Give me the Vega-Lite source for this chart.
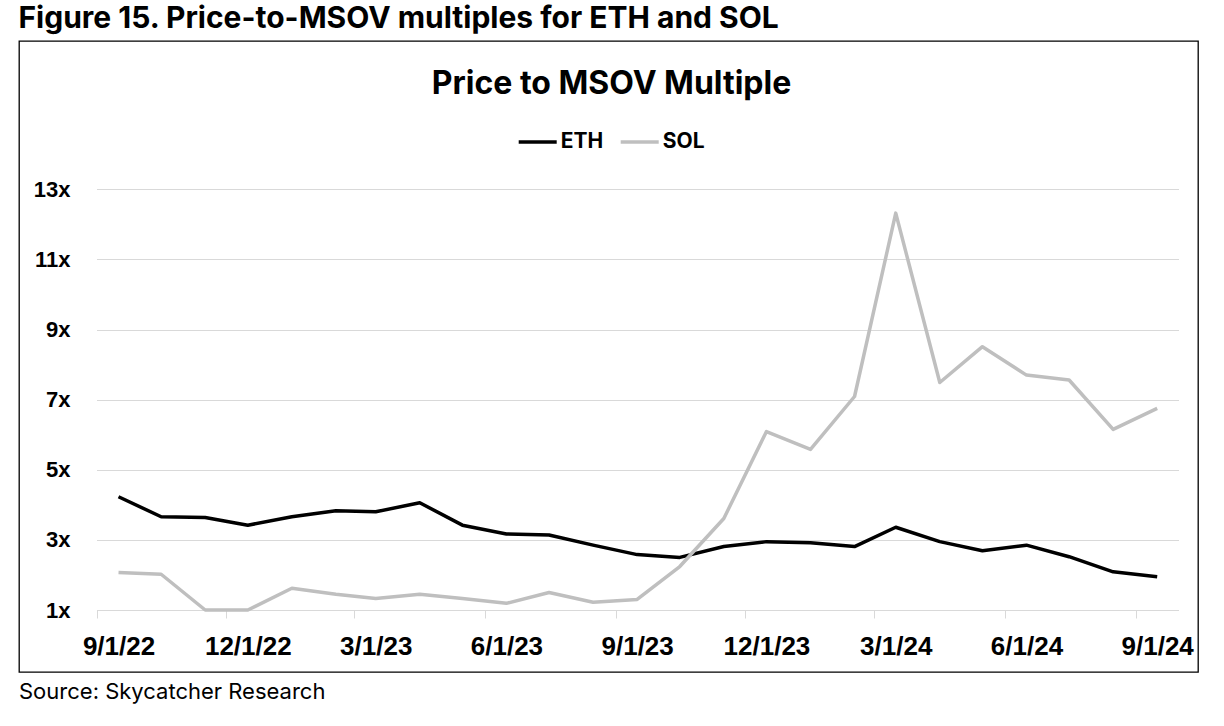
{
  "$schema": "https://vega.github.io/schema/vega-lite/v6.json",
  "autosize": {"type": "none"},
  "padding": {"left": 19, "top": 41, "right": 26, "bottom": 54},
  "width": 1179,
  "height": 631,
  "background": "white",
  "title": {
    "text": "Source: Skycatcher Research",
    "orient": "bottom",
    "anchor": "start",
    "frame": "group",
    "offset": 10,
    "font": "Inter",
    "fontSize": 22,
    "fontWeight": "normal",
    "color": "#000000"
  },
  "data": {
    "values": [
      {"date": "2022-09-01", "series": "ETH", "value": 4.23},
      {"date": "2022-10-01", "series": "ETH", "value": 3.66},
      {"date": "2022-11-01", "series": "ETH", "value": 3.64},
      {"date": "2022-12-01", "series": "ETH", "value": 3.42},
      {"date": "2023-01-01", "series": "ETH", "value": 3.66},
      {"date": "2023-02-01", "series": "ETH", "value": 3.83},
      {"date": "2023-03-01", "series": "ETH", "value": 3.80},
      {"date": "2023-04-01", "series": "ETH", "value": 4.06},
      {"date": "2023-05-01", "series": "ETH", "value": 3.42},
      {"date": "2023-06-01", "series": "ETH", "value": 3.17},
      {"date": "2023-07-01", "series": "ETH", "value": 3.14},
      {"date": "2023-08-01", "series": "ETH", "value": 2.85},
      {"date": "2023-09-01", "series": "ETH", "value": 2.58},
      {"date": "2023-10-01", "series": "ETH", "value": 2.50},
      {"date": "2023-11-01", "series": "ETH", "value": 2.81},
      {"date": "2023-12-01", "series": "ETH", "value": 2.95},
      {"date": "2024-01-01", "series": "ETH", "value": 2.92},
      {"date": "2024-02-01", "series": "ETH", "value": 2.81},
      {"date": "2024-03-01", "series": "ETH", "value": 3.36},
      {"date": "2024-04-01", "series": "ETH", "value": 2.95},
      {"date": "2024-05-01", "series": "ETH", "value": 2.69},
      {"date": "2024-06-01", "series": "ETH", "value": 2.85},
      {"date": "2024-07-01", "series": "ETH", "value": 2.52},
      {"date": "2024-08-01", "series": "ETH", "value": 2.09},
      {"date": "2024-09-01", "series": "ETH", "value": 1.95},
      {"date": "2022-09-01", "series": "SOL", "value": 2.07},
      {"date": "2022-10-01", "series": "SOL", "value": 2.02},
      {"date": "2022-11-01", "series": "SOL", "value": 0.97},
      {"date": "2022-12-01", "series": "SOL", "value": 0.78},
      {"date": "2023-01-01", "series": "SOL", "value": 1.62},
      {"date": "2023-02-01", "series": "SOL", "value": 1.45},
      {"date": "2023-03-01", "series": "SOL", "value": 1.33},
      {"date": "2023-04-01", "series": "SOL", "value": 1.45},
      {"date": "2023-05-01", "series": "SOL", "value": 1.33},
      {"date": "2023-06-01", "series": "SOL", "value": 1.19},
      {"date": "2023-07-01", "series": "SOL", "value": 1.50},
      {"date": "2023-08-01", "series": "SOL", "value": 1.22},
      {"date": "2023-09-01", "series": "SOL", "value": 1.30},
      {"date": "2023-10-01", "series": "SOL", "value": 2.24},
      {"date": "2023-11-01", "series": "SOL", "value": 3.61},
      {"date": "2023-12-01", "series": "SOL", "value": 6.09},
      {"date": "2024-01-01", "series": "SOL", "value": 5.58},
      {"date": "2024-02-01", "series": "SOL", "value": 7.09},
      {"date": "2024-03-01", "series": "SOL", "value": 12.32},
      {"date": "2024-04-01", "series": "SOL", "value": 7.49},
      {"date": "2024-05-01", "series": "SOL", "value": 8.51},
      {"date": "2024-06-01", "series": "SOL", "value": 7.70},
      {"date": "2024-07-01", "series": "SOL", "value": 7.56},
      {"date": "2024-08-01", "series": "SOL", "value": 6.15},
      {"date": "2024-09-01", "series": "SOL", "value": 6.75}
    ]
  },
  "mark": {"type": "line", "strokeWidth": 3.5, "strokeJoin": "round", "clip": false},
  "encoding": {
    "x": {
      "field": "date",
      "type": "temporal",
      "scale": {
        "type": "utc",
        "domain": [
          {"year": 2022, "month": 8, "date": 16, "hours": 12, "utc": true},
          {"year": 2024, "month": 9, "date": 16, "utc": true}
        ],
        "range": [77.5, 1159.5],
        "nice": false
      },
      "axis": {
        "title": "Price to MSOV Multiple",
        "titleFont": "Inter",
        "titleFontSize": 32,
        "titleFontWeight": "bold",
        "titleColor": "#000000",
        "titleX": 592,
        "titleY": -516.7,
        "titleAlign": "center",
        "titleBaseline": "alphabetic",
        "titleAngle": 0,
        "offset": -62,
        "values": [
          {"year": 2022, "month": 9, "date": 1, "utc": true},
          {"year": 2022, "month": 12, "date": 1, "utc": true},
          {"year": 2023, "month": 3, "date": 1, "utc": true},
          {"year": 2023, "month": 6, "date": 1, "utc": true},
          {"year": 2023, "month": 9, "date": 1, "utc": true},
          {"year": 2023, "month": 12, "date": 1, "utc": true},
          {"year": 2024, "month": 3, "date": 1, "utc": true},
          {"year": 2024, "month": 6, "date": 1, "utc": true},
          {"year": 2024, "month": 9, "date": 1, "utc": true}
        ],
        "format": "%-m/%-d/%y",
        "labelFont": "Liberation Sans",
        "labelFontSize": 26,
        "labelFontWeight": "bold",
        "labelColor": "#000000",
        "labelPadding": 15,
        "labelFlush": false,
        "labelOverlap": false,
        "labelOffset": 21.6,
        "tickOffset": -21.6,
        "ticks": true,
        "tickSize": 8,
        "tickColor": "#d9d9d9",
        "tickWidth": 1,
        "domain": false,
        "grid": false
      }
    },
    "y": {
      "field": "value",
      "type": "quantitative",
      "scale": {"domain": [1, 13], "range": [569, 148.3], "clamp": true, "nice": false, "zero": false},
      "axis": {
        "title": "Figure 15. Price-to-MSOV multiples for ETH and SOL",
        "titleFont": "Inter",
        "titleFontSize": 30,
        "titleFontWeight": "bold",
        "titleColor": "#000000",
        "titleAngle": 0,
        "titleX": -1,
        "titleY": -14,
        "titleAlign": "left",
        "titleBaseline": "alphabetic",
        "values": [1, 3, 5, 7, 9, 11, 13],
        "labelExpr": "datum.value + 'x'",
        "labelFont": "Liberation Sans",
        "labelFontSize": 22,
        "labelFontWeight": "bold",
        "labelColor": "#000000",
        "labelPadding": -51,
        "ticks": false,
        "tickSize": 0,
        "domain": false,
        "grid": true,
        "gridColor": "#d9d9d9",
        "gridWidth": 1
      }
    },
    "color": {
      "field": "series",
      "type": "nominal",
      "scale": {"domain": ["ETH", "SOL"], "range": ["#000000", "#bfbfbf"]},
      "legend": {
        "title": null,
        "orient": "none",
        "direction": "horizontal",
        "legendX": 497.7,
        "legendY": 80,
        "symbolType": "stroke",
        "symbolSize": 1444,
        "symbolStrokeWidth": 3.5,
        "labelFont": "Inter",
        "labelFontSize": 21,
        "labelFontWeight": "bold",
        "labelColor": "#000000",
        "labelOffset": 2,
        "columnPadding": 10,
        "padding": 0
      }
    }
  },
  "config": {
    "view": {"stroke": "#000000", "strokeWidth": 1.3}
  }
}
